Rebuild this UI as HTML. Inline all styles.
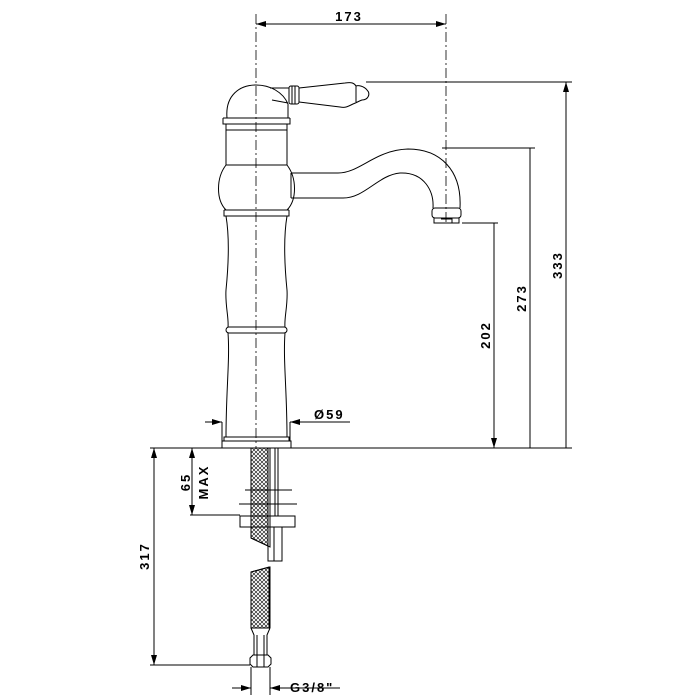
<!DOCTYPE html>
<html><head><meta charset="utf-8"><style>
html,body{margin:0;padding:0;background:#fff;}
svg{display:block;}
text{font-family:"Liberation Sans",sans-serif;font-weight:bold;font-size:13px;fill:#000;letter-spacing:2px;}
</style></head><body>
<svg width="700" height="700" viewBox="0 0 700 700" xmlns="http://www.w3.org/2000/svg">
<defs>
<pattern id="mesh" width="4" height="4" patternUnits="userSpaceOnUse">
<path d="M0 0L4 4M4 0L0 4" stroke="#000" stroke-width="0.6"/>
</pattern>
<marker id="ar" markerWidth="10" markerHeight="6" refX="10" refY="3" orient="auto-start-reverse" markerUnits="userSpaceOnUse">
<path d="M0 0L10 3L0 6Z" fill="#000"/>
</marker>
</defs>
<g fill="none" stroke="#000" stroke-width="1">
<path d="M256 14V448M446 14V222" stroke-dasharray="10,3,2,3" stroke-width="0.8"/>
<path d="M256 24H446" marker-start="url(#ar)" marker-end="url(#ar)"/>
<path d="M366 82H572M442 148H535M462 223H498"/>
<path d="M566 82V448M530 148V448M494 223V448" marker-start="url(#ar)" marker-end="url(#ar)"/>
<path d="M290 448H572M150 448H222"/>
<path d="M227 118C225 95 240 85 256 85C270 85 283 92 288 104L288 118"/>
<path d="M223 118H290M223 118V124H290V118M226 124V130M287 124V130M226 130H287"/>
<path d="M270 88H289M288 103L272 100"/>
<rect x="289" y="86" width="10" height="18" rx="2"/>
<path d="M292 86V104M295 86V104"/>
<path d="M299 88L345 83C352 82 354 83 356 86C358 85 364 86 367 90C371 94 368 100 362 100C359 101 358 102 353 104C347 107 345 108 340 107L299 102"/>
<path d="M356 86V102"/>
<path d="M226 130V165M287 130V165M226 165H287"/>
<path d="M226 165C216 178 216 200 226 210M287 165C297 178 297 200 287 210"/>
<path d="M224 210H289M224 210V216H289V210M224 216H289"/>
<path d="M291 173V198"/>
<path d="M291 173H338C360 173 375 150 408 149C440 149 462 170 460 208"/>
<path d="M291 198H343C365 198 378 175 400 173C425 172 434 192 433 208"/>
<rect x="432" y="208" width="29" height="10" rx="3"/>
<path d="M434 218V223H459V218M441 219H452V223"/>
<path d="M226 216C230 240 228 270 226 290C225 305 229 318 228 327M287 216C283 240 285 270 287 290C288 305 284 318 285 327"/>
<rect x="226" y="327" width="61" height="6" rx="3"/>
<path d="M228 333C230 360 226 390 226 437M285 333C283 360 287 390 287 437"/>
<path d="M224 437H289V441H224Z"/>
<path d="M222 441H291V448H222Z"/>
<path d="M205 422H222" marker-end="url(#ar)"/>
<path d="M350 422H290" marker-end="url(#ar)"/>
<path d="M222 422V441M290 422V441"/>
<path d="M251 448V538L268 546V448Z" fill="url(#mesh)"/>
<path d="M251 448V538L270 547V448"/>
<path d="M275 448V516M278 448V516"/>
<path d="M245 490H292M239 504H297"/>
<rect x="240" y="516" width="55" height="11"/>
<rect x="268" y="527" width="14" height="34"/>
<path d="M274 527V561"/>
<path d="M251 628V572L269 567V628Z" fill="url(#mesh)"/>
<path d="M251 628V572L270 567V628"/>
<path d="M251 628L254 635V655H267V635L270 628M257 635V655M264 635V655"/>
<path d="M250 658L253 655H268L271 658V664L268 667H253L250 664Z"/>
<path d="M257 655V667M264 655V667"/>
<path d="M150 665H250"/>
<path d="M154 448V665" marker-start="url(#ar)" marker-end="url(#ar)"/>
<path d="M190 515H240"/>
<path d="M192 448V515" marker-start="url(#ar)" marker-end="url(#ar)"/>
<path d="M251 667V695M270 667V695"/>
<path d="M232 688H251" marker-end="url(#ar)"/>
<path d="M340 688H270" marker-end="url(#ar)"/>
</g>
<text x="349" y="21" text-anchor="middle">173</text>
<text x="314" y="419">Ø59</text>
<text x="290" y="692">G3/8"</text>
<text transform="translate(149,556) rotate(-90)" text-anchor="middle">317</text>
<text transform="translate(190,482) rotate(-90)" text-anchor="middle">65</text>
<text transform="translate(208,482) rotate(-90)" text-anchor="middle">MAX</text>
<text transform="translate(490,335) rotate(-90)" text-anchor="middle">202</text>
<text transform="translate(526,298) rotate(-90)" text-anchor="middle">273</text>
<text transform="translate(562,265) rotate(-90)" text-anchor="middle">333</text>
</svg>
</body></html>
